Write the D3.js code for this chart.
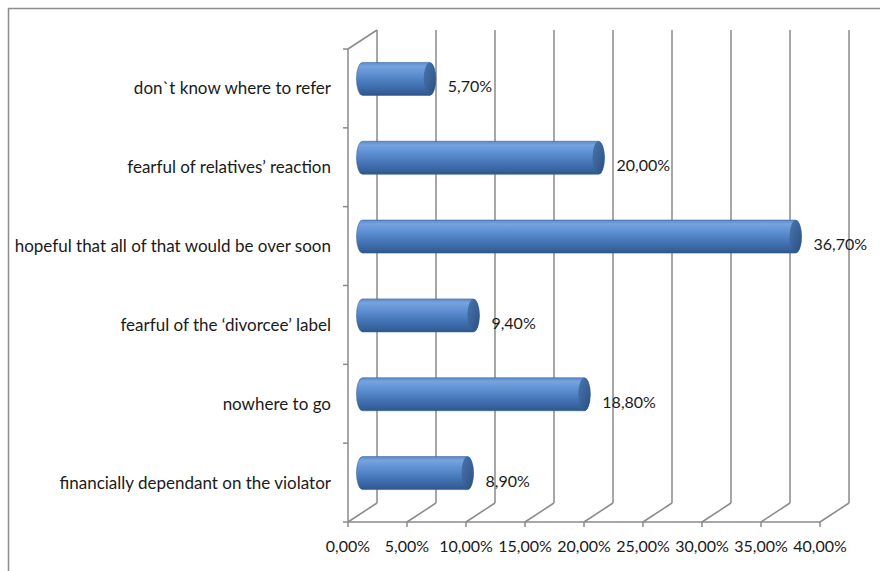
<!DOCTYPE html>
<html><head><meta charset="utf-8">
<script src="https://cdn.jsdelivr.net/npm/d3@7"></script>
<style>body{margin:0;background:#fff}svg{display:block}text{font-family:Lato,"Open Sans",sans-serif;fill:#1a1a1a}</style>
</head><body>
<svg id="c" width="880" height="571"></svg>
<script>
const categories = ["don`t know where to refer","fearful of relatives\u2019 reaction","hopeful that all of that would be over soon","fearful of the \u2018divorcee\u2019 label","nowhere to go","financially dependant on the violator"];
const values = [5.7, 20.0, 36.7, 9.4, 18.8, 8.9];
const valueLabels = ["5,70%","20,00%","36,70%","9,40%","18,80%","8,90%"];
const tickValues = [0,5,10,15,20,25,30,35,40];
const tickLabels = ["0,00%","5,00%","10,00%","15,00%","20,00%","25,00%","30,00%","35,00%","40,00%"];

const svg = d3.select("#c");
const W=880,H=571;
const x = d3.scaleLinear().domain([0,40]).range([348,820]);
const y = d3.scaleBand().domain(categories).range([49,522]).padding(0);
const DX=29, DY=-19, floorY=522, topY=49;
const grid="#8a8a8a";

// outer border
svg.append("path").attr("d",`M8.5,${H} L8.5,8.5 L${W},8.5`).attr("fill","none").attr("stroke","#8c8c8c").attr("stroke-width",1.5);

const defs=svg.append("defs");
const g1=defs.append("linearGradient").attr("id","body").attr("x1",0).attr("y1",0).attr("x2",0).attr("y2",1);
[[0,"#5a8bcf"],[0.12,"#77a3de"],[0.3,"#6294d6"],[0.65,"#4676b7"],[0.9,"#35619c"],[1,"#2d5587"]].forEach(s=>g1.append("stop").attr("offset",s[0]).attr("stop-color",s[1]));
const g2=defs.append("linearGradient").attr("id","cap").attr("x1",0).attr("y1",0).attr("x2",1).attr("y2",1);
[[0,"#4a74ab"],[0.5,"#3a6398"],[1,"#2c4f80"]].forEach(s=>g2.append("stop").attr("offset",s[0]).attr("stop-color",s[1]));

// back wall gridlines
svg.append("g").selectAll("line").data(tickValues).join("line")
  .attr("x1",d=>x(d)+DX).attr("x2",d=>x(d)+DX).attr("y1",topY+DY).attr("y2",floorY+DY)
  .attr("stroke",grid).attr("stroke-width",1.5);
// floor diagonals
svg.append("g").selectAll("line").data(tickValues).join("line")
  .attr("x1",d=>x(d)).attr("x2",d=>x(d)+DX).attr("y1",floorY).attr("y2",floorY+DY)
  .attr("stroke",grid).attr("stroke-width",1.5);
// left wall front edge + top diagonal
svg.append("line").attr("x1",x(0)).attr("x2",x(0)).attr("y1",topY).attr("y2",floorY).attr("stroke",grid).attr("stroke-width",1.5);
svg.append("line").attr("x1",x(0)).attr("x2",x(0)+DX).attr("y1",topY).attr("y2",topY+DY).attr("stroke",grid).attr("stroke-width",1.5);
// baseline
svg.append("line").attr("x1",x(0)).attr("x2",x(40)).attr("y1",floorY).attr("y2",floorY).attr("stroke",grid).attr("stroke-width",1.5);
// ticks bottom
svg.append("g").selectAll("line").data(tickValues).join("line")
  .attr("x1",d=>x(d)).attr("x2",d=>x(d)).attr("y1",floorY).attr("y2",floorY+5).attr("stroke",grid).attr("stroke-width",1.5);
// left ticks at band boundaries
const bounds = categories.map(c=>y(c)).concat([floorY]);
svg.append("g").selectAll("line").data(bounds).join("line")
  .attr("x1",x(0)-5).attr("x2",x(0)).attr("y1",d=>d).attr("y2",d=>d).attr("stroke",grid).attr("stroke-width",1.5);

// tick labels
svg.append("g").selectAll("text").data(tickValues).join("text")
  .attr("x",d=>x(d)).attr("y",floorY+30).attr("text-anchor","middle").attr("font-size",16).text((d,i)=>tickLabels[i]);

// category labels
svg.append("g").selectAll("text").data(categories).join("text")
  .attr("x",331).attr("y",d=>y(d)+y.bandwidth()/2+6).attr("text-anchor","end").attr("font-size",17).text(d=>d);

// bars
const rx=6, ry=16.5;
const bars=svg.append("g").selectAll("g").data(values).join("g");
bars.each(function(v,i){
  const cy=y(categories[i])+y.bandwidth()/2+DY/2;
  const xL=x(0)+DX/2, xR=x(v)+DX/2;
  const g=d3.select(this);
  g.append("path").attr("d",`M${xL},${cy-ry} L${xR},${cy-ry} A${rx},${ry} 0 0 1 ${xR},${cy+ry} L${xL},${cy+ry} A${rx},${ry} 0 0 1 ${xL},${cy-ry} Z`)
    .attr("fill","url(#body)").attr("stroke","#3a6497").attr("stroke-width",0.6);
  g.append("ellipse").attr("cx",xR).attr("cy",cy).attr("rx",rx).attr("ry",ry).attr("fill","url(#cap)");
  g.append("text").attr("x",xR+rx+12).attr("y",y(categories[i])+y.bandwidth()/2+4).attr("font-size",16).text(valueLabels[i]);
});
</script>
</body></html>
